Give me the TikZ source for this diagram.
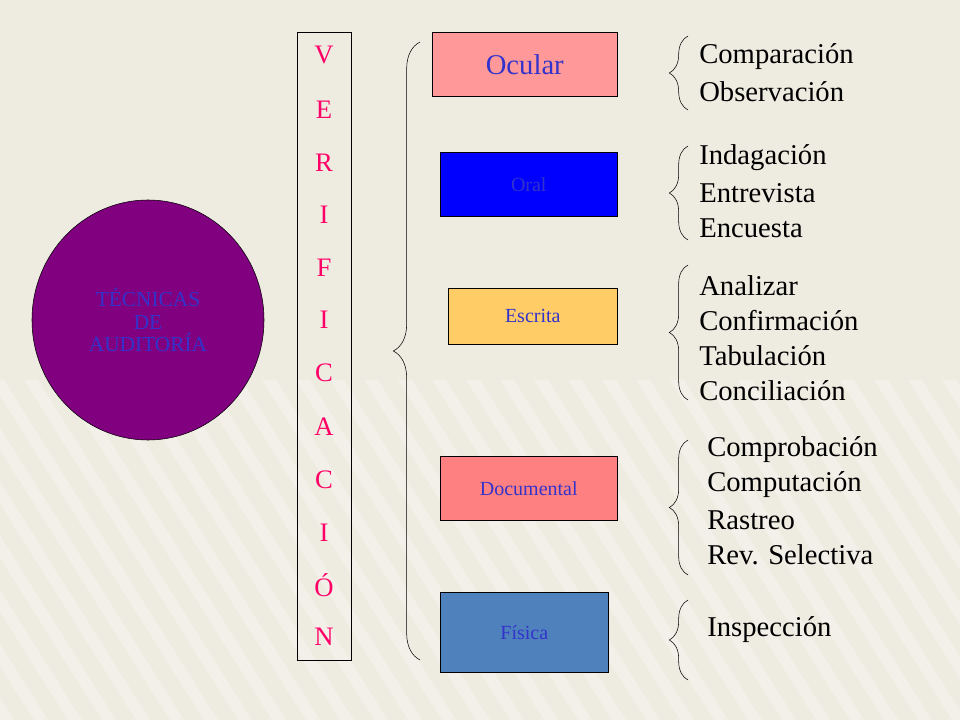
\documentclass[tikz,border=0pt]{standalone}
\usepackage{fontspec}
\setmainfont{Liberation Serif}
\usetikzlibrary{decorations.pathreplacing,shapes.geometric}
\definecolor{bg}{HTML}{EEEBE1}
\definecolor{txtblue}{HTML}{3333CC}
\definecolor{letr}{HTML}{FF0066}
\tikzset{
  px/.style={x=0.75pt,y=-0.75pt},
  box/.style={draw=black,rectangle,anchor=north west,inner sep=0pt,font=\rmfamily\fontsize{15}{17}\selectfont,text=txtblue},
  br/.style={decorate,decoration={brace,amplitude=#1},draw=black,thin},
  item/.style={anchor=west,font=\rmfamily\fontsize{21.5}{24}\selectfont,inner sep=0pt},
  letter/.style={font=\rmfamily\fontsize{20}{22}\selectfont,text=letr,inner sep=0pt}
}
\begin{document}
\begin{tikzpicture}[px]
\useasboundingbox (0,0) rectangle (960,720);
\begin{scope}
\clip (0,0) rectangle (960,720);
\fill[bg] (0,0) rectangle (960,720);
\foreach \i in {0,...,36}{\fill[white,opacity=0.25] (\i*34,720) -- (\i*34+14,720) -- (\i*34-200,380) -- (\i*34-214,380) -- cycle;}
\end{scope}
\node[ellipse,draw=black,fill={rgb,255:red,128;green,0;blue,128},minimum width=174pt,minimum height=180pt,inner sep=0pt] (c) at (148,320) {};
\node[align=center,text=txtblue,font=\rmfamily\fontsize{16}{17}\selectfont] (ct) at (148,320) {TÉCNICAS\\DE\\AUDITORÍA};
\node[draw=black,rectangle,anchor=north west,minimum width=54*0.75pt,minimum height=628*0.75pt,inner sep=0pt] (v) at (297,32) {};
\foreach [count=\k] \l/\y in {V/55,E/110,R/163,I/215,F/268,I/320,C/373,A/427,C/480,I/533,Ó/585,N/637}
  \node[letter] (l\k) at (324,\y) {\l};
\coordinate (bb) at (420,660); \coordinate (bt) at (420,42);
\draw[br=20pt] (bb) -- (bt);
\node[box,fill={rgb,255:red,255;green,153;blue,153},minimum width=185*0.75pt,minimum height=64*0.75pt,font=\rmfamily\fontsize{21.5}{24}\selectfont] (oc) at (432,32) {Ocular};
\node[box,fill={rgb,255:red,0;green,0;blue,255},minimum width=177*0.75pt,minimum height=64*0.75pt] (or) at (440,152) {Oral};
\node[box,fill={rgb,255:red,255;green,204;blue,102},minimum width=169*0.75pt,minimum height=56*0.75pt] (es) at (448,288) {Escrita};
\node[box,fill={rgb,255:red,255;green,128;blue,128},minimum width=177*0.75pt,minimum height=64*0.75pt] (do) at (440,456) {Documental};
\node[box,fill={rgb,255:red,79;green,129;blue,189},minimum width=168*0.75pt,minimum height=80*0.75pt] (fi) at (440,592) {Física};
\foreach \a/\b [count=\k] in {36/110,146/240,265/400,440/575,600/680}{
  \coordinate (r\k b) at (688,\b); \coordinate (r\k t) at (688,\a);
  \draw[br=14pt] (r\k b) -- (r\k t);}
\foreach \t/\y [count=\k] in {Comparación/57,Observación/92,Indagación/158,Entrevista/193,Encuesta/228,Analizar/286,Confirmación/321,Tabulación/356,Conciliación/391}
  \node[item] (i\k) at (699,\y) {\t};
\foreach \t/\y [count=\k] in {Comprobación/450,Computación/485,Rastreo/520,Rev. Selectiva/555,Inspección/630}
  \node[item] (j\k) at (707,\y) {\t};
\end{tikzpicture}
\end{document}
